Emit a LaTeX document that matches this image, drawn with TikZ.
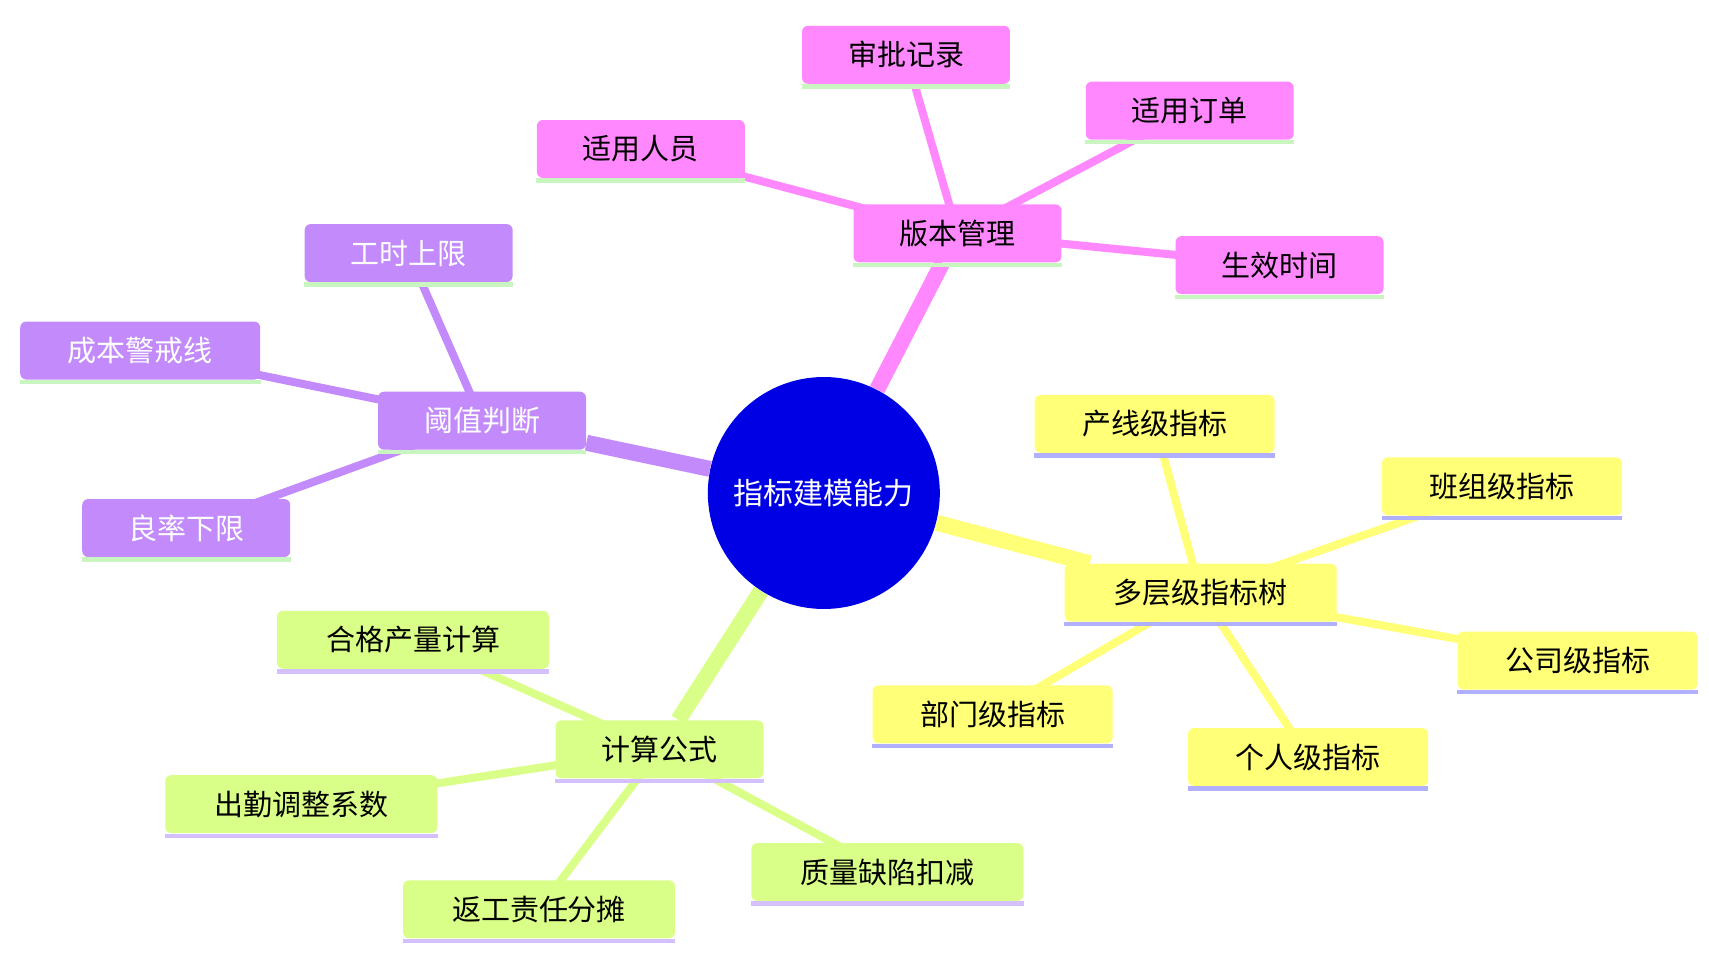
\documentclass[tikz,border=0pt]{standalone}
\usepackage{fontspec}
\setmainfont{Noto Sans CJK SC}
\usetikzlibrary{backgrounds}
\begin{document}
\begin{tikzpicture}[x=0.5478pt,y=-0.5478pt,
 box/.style={rounded corners=3pt,inner sep=0pt,minimum height=29pt,font=\fontsize{14.5}{16}\selectfont},
 w1/.style={minimum width=104pt},w2/.style={minimum width=120pt},w3/.style={minimum width=136pt},
 mag/.style={box,fill=magB},pur/.style={box,fill=purB,text=white},yel/.style={box,fill=yelB},grn/.style={box,fill=grnB},
 e1/.style={line width=4pt},e0/.style={line width=8pt}]
\definecolor{magB}{HTML}{FF88FF}\definecolor{purB}{HTML}{C28AFA}
\definecolor{yelB}{HTML}{FFFF78}\definecolor{grnB}{HTML}{DAFF88}
\definecolor{ulG}{HTML}{C8F5C0}\definecolor{ulB}{HTML}{B0B0FF}\definecolor{ulP}{HTML}{D4BFFF}
\useasboundingbox (0,0) rectangle (1560,874.5);
\node[circle,fill=blue!90!black,minimum size=116pt,text=white,font=\fontsize{15}{17}\selectfont] (c) at (752,450) {指标建模能力};
\node[mag,w1] (v) at (874,213) {版本管理};
\node[mag,w1] (v1) at (827,50) {审批记录};
\node[mag,w1] (v2) at (1086,101) {适用订单};
\node[mag,w1] (v3) at (585,136) {适用人员};
\node[mag,w1] (v4) at (1168,242) {生效时间};
\node[pur,w1] (t) at (440,384) {阈值判断};
\node[pur,w1] (t1) at (373,231) {工时上限};
\node[pur,w2] (t2) at (128,320) {成本警戒线};
\node[pur,w1] (t3) at (170,482) {良率下限};
\node[yel,w3] (m) at (1096,541) {多层级指标树};
\node[yel,w2] (m1) at (1054,387) {产线级指标};
\node[yel,w2] (m2) at (1371,444) {班组级指标};
\node[yel,w2] (m3) at (1440,603) {公司级指标};
\node[yel,w2] (m4) at (906,652) {部门级指标};
\node[yel,w2] (m5) at (1194,691) {个人级指标};
\node[grn,w1] (g) at (602,684) {计算公式};
\node[grn,w3] (g1) at (377,584) {合格产量计算};
\node[grn,w3] (g2) at (275,734) {出勤调整系数};
\node[grn,w3] (g3) at (492,830) {返工责任分摊};
\node[grn,w3] (g4) at (810,796) {质量缺陷扣减};
\begin{pgfonlayer}{background}
\draw[e0,magB] (c)--(v); \draw[e0,purB] (c)--(t); \draw[e0,yelB] (c)--(m); \draw[e0,grnB] (c)--(g);
\foreach \n in {v1,v2,v3,v4}{\draw[e1,magB] (v.center)--(\n.center);}
\foreach \n in {t1,t2,t3}{\draw[e1,purB] (t.center)--(\n.center);}
\foreach \n in {m1,m2,m3,m4,m5}{\draw[e1,yelB] (m.center)--(\n.center);}
\foreach \n in {g1,g2,g3,g4}{\draw[e1,grnB] (g.center)--(\n.center);}
\end{pgfonlayer}
\foreach \n in {v,v1,v2,v3,v4,t,t1,t2,t3}{\fill[ulG] (\n.south west) rectangle ([yshift=-2.2pt]\n.south east);}
\foreach \n in {m,m1,m2,m3,m4,m5}{\fill[ulB] (\n.south west) rectangle ([yshift=-2.2pt]\n.south east);}
\foreach \n in {g,g1,g2,g3,g4}{\fill[ulP] (\n.south west) rectangle ([yshift=-2.2pt]\n.south east);}
\end{tikzpicture}
\end{document}
